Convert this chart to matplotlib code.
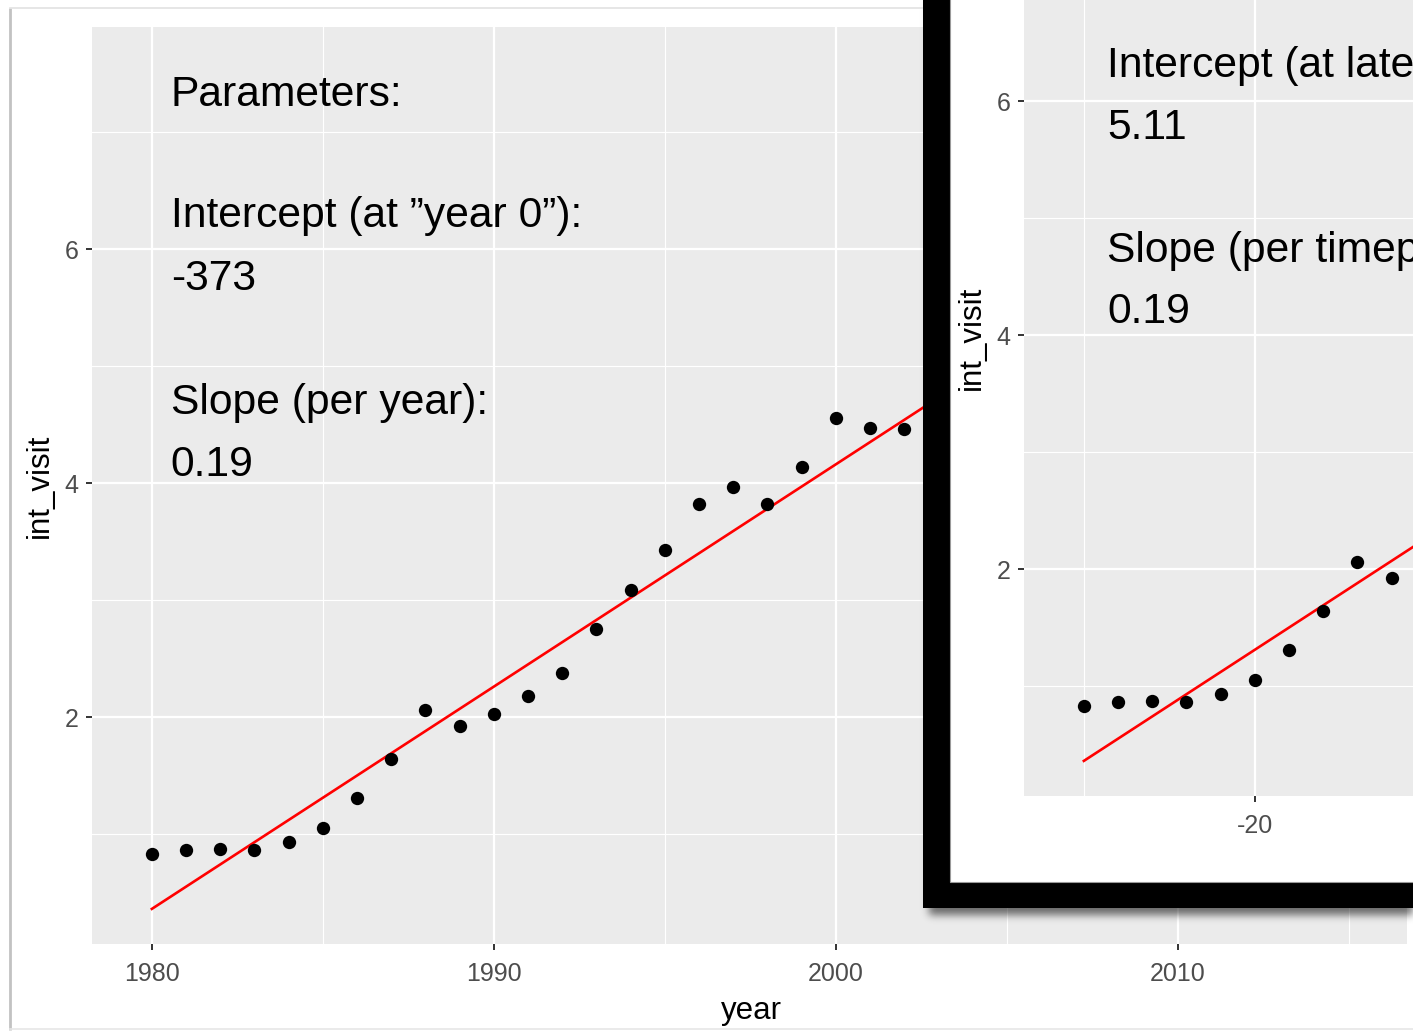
import numpy as np
import matplotlib
matplotlib.use("Agg")
import matplotlib.pyplot as plt
from matplotlib.patches import Rectangle

plt.rcParams['font.family'] = ['Liberation Sans', 'DejaVu Sans']
plt.rcParams['axes.unicode_minus'] = False

# ---- data -----------------------------------------------------------------
years = [1980, 1981, 1982, 1983, 1984, 1985, 1986, 1987, 1988, 1989, 1990,
         1991, 1992, 1993, 1994, 1995, 1996, 1997, 1998, 1999, 2000, 2001, 2002]
int_visit = [0.83, 0.86, 0.87, 0.86, 0.93, 1.05, 1.31, 1.64, 2.06, 1.92, 2.03,
             2.18, 2.38, 2.75, 3.09, 3.43, 3.82, 3.97, 3.82, 4.14, 4.56, 4.47, 4.46]

# fitted model parameters
latest_year = 2005
intercept_year0 = -373
intercept_latest = 5.11
slope = 0.19

year_ticks = [1980, 1990, 2000, 2010]
year_minor = [1985, 1995, 2005, 2015]
timepoint_ticks = [-20, -10, 0, 10]
timepoint_minor = [-25, -15, -5, 5]
y_ticks = [2, 4, 6]
y_minor = [1, 3, 5, 7]

year_lim = (1978.25, 2016.7)
y_lim = (0.06, 7.898)

# ---- figure geometry (pixels) -----------------------------------------------
W, H, DPI = 1413, 1032, 100
fig = plt.figure(figsize=(W / DPI, H / DPI), dpi=DPI)
fig.patch.set_facecolor('white')


def px_box(left, top, right, bottom):
    return [left / W, 1 - bottom / H, (right - left) / W, (bottom - top) / H]


PANEL = '#EBEBEB'


def style_panel(ax, xlim, xmaj, xmin):
    ax.set_facecolor(PANEL)
    ax.set_xlim(*xlim)
    ax.set_ylim(*y_lim)
    ax.set_xticks(xmaj)
    ax.set_xticks(xmin, minor=True)
    ax.set_xticklabels([str(v) for v in xmaj])
    ax.set_yticks(y_ticks)
    ax.set_yticks(y_minor, minor=True)
    ax.set_yticklabels([str(v) for v in y_ticks])
    ax.grid(which='major', color='white', lw=1.6)
    ax.grid(which='minor', color='white', lw=0.8)
    ax.set_axisbelow(True)
    for s in ax.spines.values():
        s.set_visible(False)
    ax.tick_params(which='major', length=4.5, width=1.4, color='#333333',
                   labelcolor='#4D4D4D', labelsize=18, pad=5)
    ax.tick_params(axis='x', which='major', pad=8.5)
    ax.tick_params(which='minor', length=0)
    ax.set_ylabel('int_visit', fontsize=22.5, color='black')
    ax.yaxis.set_label_coords(-0.0283, 0.5)


def fit_line(x0, x1, offset):
    xs = np.array([x0, x1], dtype=float)
    return xs, intercept_latest + slope * (xs + offset - latest_year)


TEXT_KW = dict(fontsize=30.7, color='black', va='baseline', ha='left')

# ---- main panel -------------------------------------------------------------
ax = fig.add_axes(px_box(92, 27, 1407, 944), zorder=0)
style_panel(ax, year_lim, year_ticks, year_minor)
ax.set_xlabel('year', fontsize=22.5, color='black')
ax.xaxis.set_label_coords(0.5015, -0.057)

lx, ly = fit_line(years[0], latest_year, 0)
ax.plot(lx, ly, color='#FF0000', lw=1.9, zorder=3)
ax.scatter(years, int_visit, s=92, color='black', zorder=4, linewidths=0)

tx = 1980.55
ax.text(tx, 7.222, 'Parameters:', **TEXT_KW)
ax.text(tx, 6.188, 'Intercept (at \u201dyear 0\u201d):', **TEXT_KW)
ax.text(tx, 5.650, f'{intercept_year0}', **TEXT_KW)
ax.text(tx, 4.590, 'Slope (per year):', **TEXT_KW)
ax.text(tx, 4.060, f'{slope:.2f}', **TEXT_KW)

# ---- overlay: picture border, inset frame and its shadow --------------------
ov = fig.add_axes([0, 0, 1, 1], zorder=1)
ov.set_xlim(0, W)
ov.set_ylim(H, 0)
ov.axis('off')
ov.patch.set_visible(False)

# border of the main picture
ov.plot([10, 10], [8, 1030], color='#c2c2c2', lw=2.0, solid_capstyle='butt')
ov.plot([10, W], [8, 8], color='#e2e2e2', lw=1.2)
ov.plot([10, W], [1029, 1029], color='#e6e6e6', lw=1.2)

# soft drop shadow below the inset frame
sx0, sx1, sy0, sy1 = 880, W, 0, 960
xs = np.arange(sx0, sx1) + 0.5
ys = np.arange(sy0, sy1) + 0.5
mx = (xs >= 929).astype(float)
my = (ys <= 915).astype(float)
k = np.exp(-0.5 * (np.arange(-15, 16) / 4.0) ** 2)
k /= k.sum()
bx = np.convolve(mx, k, mode='same')
by = np.convolve(my, k, mode='same')
alpha = 0.55 * np.outer(by, bx)
shadow = np.zeros((len(ys), len(xs), 4))
shadow[..., 3] = alpha
ov.imshow(shadow, extent=(sx0, sx1, sy1, sy0), origin='upper',
          aspect='auto', interpolation='bilinear', zorder=1)
ov.set_xlim(0, W)
ov.set_ylim(H, 0)

ov.add_patch(Rectangle((923, -50), 600, 958, facecolor='black',
                       edgecolor='none', zorder=2))
ov.add_patch(Rectangle((950, -50), 600, 932, facecolor='white',
                       edgecolor='#9a9a9a', lw=0.8, zorder=3))

# ---- inset panel: same series on a timepoint scale --------------------------
timepoints = [y - latest_year for y in years]
tp_lim = (year_lim[0] - latest_year, year_lim[1] - latest_year)

ax2 = fig.add_axes(px_box(1024, -121, 2339, 796), zorder=2)
style_panel(ax2, tp_lim, timepoint_ticks, timepoint_minor)

lx2, ly2 = fit_line(timepoints[0], 0, latest_year)
ax2.plot(lx2, ly2, color='#FF0000', lw=1.9, zorder=3)
ax2.scatter(timepoints, int_visit, s=92, color='black', zorder=4, linewidths=0)

tx2 = -24.32
ax2.text(tx2, 6.205, 'Intercept (at latest timepoint):', **TEXT_KW)
ax2.text(tx2, 5.675, f'{intercept_latest:.2f}', **TEXT_KW)
ax2.text(tx2, 4.624, 'Slope (per timepoint):', **TEXT_KW)
ax2.text(tx2, 4.103, f'{slope:.2f}', **TEXT_KW)

fig.savefig('out.png', dpi=DPI, facecolor='white')
